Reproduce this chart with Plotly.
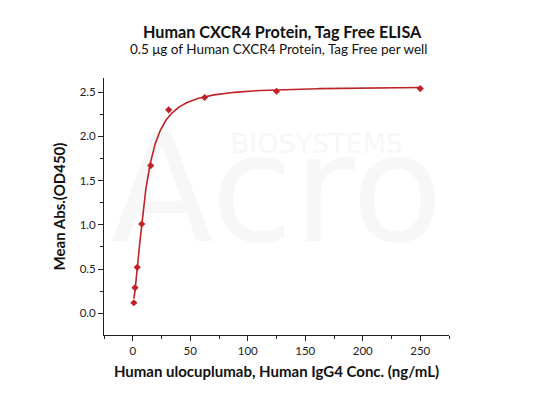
import numpy as np
import plotly.graph_objects as go

# Data
conc = [0.977, 1.953, 3.906, 7.8125, 15.625, 31.25, 62.5, 125, 250]
od450 = [0.12, 0.29, 0.52, 1.01, 1.67, 2.30, 2.44, 2.51, 2.54]
x_ticks = [0, 50, 100, 150, 200, 250]
y_ticks = [0.0, 0.5, 1.0, 1.5, 2.0, 2.5]

title = "Human CXCR4 Protein, Tag Free ELISA"
subtitle = "0.5 μg of Human CXCR4 Protein, Tag Free per well"
x_title = "Human ulocuplumab, Human IgG4 Conc. (ng/mL)"
y_title = "Mean Abs.(OD450)"

RED = "#bf2329"
WM = "#f7f7f7"

# 4-parameter logistic least-squares fit (Levenberg-Marquardt)
xd = np.array(conc, float)
yd = np.array(od450, float)

def f4(p, x):
    A, B, C, D = p
    return D + (A - D) / (1 + (x / C) ** B)

p = np.array([0.0, 1.2, 8.0, 2.6])
lam = 1e-2
for _ in range(500):
    r = yd - f4(p, xd)
    J = np.zeros((len(xd), 4))
    for i in range(4):
        dp = np.zeros(4); dp[i] = 1e-6 * max(1.0, abs(p[i]))
        J[:, i] = (f4(p + dp, xd) - f4(p - dp, xd)) / (2 * dp[i])
    H = J.T @ J
    g = J.T @ r
    step = np.linalg.solve(H + lam * np.diag(np.diag(H)), g)
    pn = p + step
    if pn[2] > 0 and np.sum((yd - f4(pn, xd)) ** 2) < np.sum(r ** 2):
        p = pn; lam *= 0.5
    else:
        lam *= 4
xf = np.geomspace(xd.min(), xd.max(), 400)
yf = f4(p, xf)

W, H = 550, 393
OFF = 8  # page body margin
PL, PT, PR, PB = 104, 78, 449, 335  # plot box in page pixels
l, t = PL - OFF, PT - OFF
pw, ph = PR - PL, PB - PT
r, b = W - l - pw, H - t - ph
XR = [-25, 275]
YR = [-0.245, 2.66]

def px_data(xp, yp):
    return (XR[0] + (xp - PL) / pw * (XR[1] - XR[0]),
            YR[1] - (yp - PT) / ph * (YR[1] - YR[0]))

def px(xp, yp):
    return (xp - PL) / pw, 1 - (yp - PT) / ph

fig = go.Figure()

# faint watermark drawn first, under the data
for txt, xp, yp, sz in [("Acro", 277, 203, 150), ("BIOSYSTEMS", 317, 146, 27)]:
    dx, dy = px_data(xp, yp)
    fig.add_trace(go.Scatter(x=[dx], y=[dy], mode="text", text=[txt],
                             textposition="middle center", cliponaxis=False,
                             textfont=dict(family="DejaVu Sans", size=sz, color=WM),
                             hoverinfo="skip", showlegend=False))
dx, dy = px_data(453, 173)
fig.add_trace(go.Scatter(x=[dx], y=[dy], mode="markers", cliponaxis=False,
                         marker=dict(symbol="circle", size=28, color=WM),
                         hoverinfo="skip", showlegend=False))

fig.add_trace(go.Scatter(x=xf, y=yf, mode="lines",
                         line=dict(color=RED, width=1.6), hoverinfo="skip",
                         showlegend=False))
fig.add_trace(go.Scatter(x=conc, y=od450, mode="markers",
                         marker=dict(symbol="diamond", size=5.5, color=RED),
                         showlegend=False))

FONT = "Lato"
axis_common = dict(showgrid=False, zeroline=False, showline=True,
                   linecolor="#222", linewidth=1, ticks="outside",
                   ticklen=5, tickcolor="#222", automargin=False,
                   tickfont=dict(family=FONT, size=11.5, color="#222"),
                   mirror=False)

fig.update_xaxes(range=XR, tickvals=x_ticks,
                 minor=dict(dtick=25, tick0=0, ticks="outside", ticklen=3,
                            tickcolor="#222"),
                 title=dict(text=f"<b>{x_title}</b>", standoff=10,
                            font=dict(family=FONT, size=15, color="#111")),
                 **axis_common)
fig.update_yaxes(range=YR, tickvals=y_ticks,
                 tickformat=".1f",
                 minor=dict(dtick=0.25, tick0=0, ticks="outside", ticklen=3,
                            tickcolor="#222"),
                 title=dict(text=f"<b>{y_title}</b>", standoff=10,
                            font=dict(family=FONT, size=15, color="#111")),
                 **axis_common)

anns = []
for txt, xp, yp, sz in [(f"<b>{title}</b>", 282, 32, 16.2), (subtitle, 278, 49, 13.5)]:
    X, Y = px(xp, yp)
    anns.append(dict(text=txt, x=X, y=Y, xref="paper", yref="paper",
                     showarrow=False, xanchor="center", yanchor="middle",
                     font=dict(family=FONT, size=sz, color="#111")))

fig.update_layout(
    width=W, height=H,
    margin=dict(l=l, r=r, t=t, b=b),
    paper_bgcolor="white", plot_bgcolor="white",
    showlegend=False,
    annotations=anns,
)

fig.write_html("out.html")
